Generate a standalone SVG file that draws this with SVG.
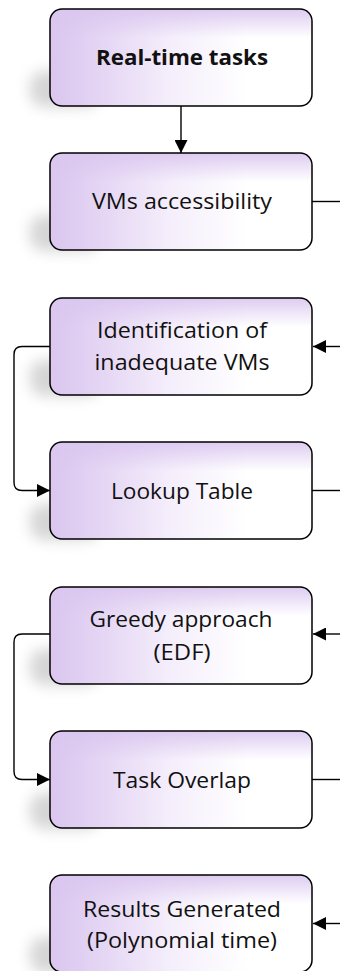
<svg xmlns="http://www.w3.org/2000/svg" width="340" height="971" viewBox="0 0 340 971">
  <defs>
    <linearGradient id="fillH" x1="0" y1="0" x2="1" y2="0">
      <stop offset="0" stop-color="#dac6ef"/>
      <stop offset="0.12" stop-color="#e0cff2"/>
      <stop offset="0.45" stop-color="#f4edfb"/>
      <stop offset="0.75" stop-color="#ffffff"/>
    </linearGradient>
    <linearGradient id="fillV" x1="0" y1="0" x2="0" y2="1">
      <stop offset="0" stop-color="#dac6ef" stop-opacity="0.9"/>
      <stop offset="0.3" stop-color="#dac6ef" stop-opacity="0"/>
    </linearGradient>
    <filter id="soft" x="-80%" y="-80%" width="260%" height="260%">
      <feGaussianBlur stdDeviation="7"/>
    </filter>
    <marker id="arrow" viewBox="0 0 13 13" refX="13" refY="6.5" markerWidth="13" markerHeight="13" markerUnits="userSpaceOnUse" orient="auto">
      <path d="M0,0 L13,6.5 L0,13 Z" fill="#000"/>
    </marker>
    <!-- box, tint and shadow shared by every step -->
    <g id="box">
      <rect x="30" y="62" width="70" height="36" rx="14" fill="#808080" opacity="0.32" filter="url(#soft)"/>
      <rect x="50" y="0" width="262" height="97" rx="12" fill="url(#fillH)"/>
      <rect x="50" y="0" width="262" height="97" rx="12" fill="url(#fillV)" stroke="#000" stroke-width="1.5"/>
    </g>
  </defs>
  <style>
    text { font-family: "Open Sans", "Liberation Sans", sans-serif; font-size: 22px; fill: #111; text-anchor: middle; }
    .bold { font-weight: bold; }
    .conn { fill: none; stroke: #000; stroke-width: 1.4; }
  </style>
  <rect width="340" height="971" fill="#fff"/>

  <g id="connectors">
    <path class="conn" d="M181,106 V153" marker-end="url(#arrow)"/>
    <path class="conn" d="M312,201.5 H340"/>
    <path class="conn" d="M340,346.5 H313" marker-end="url(#arrow)"/>
    <path class="conn" d="M50,346.5 H22 Q14,346.5 14,354.5 V482.5 Q14,490.5 22,490.5 H50" marker-end="url(#arrow)"/>
    <path class="conn" d="M312,490.5 H340"/>
    <path class="conn" d="M340,634 H313" marker-end="url(#arrow)"/>
    <path class="conn" d="M50,634 H22 Q14,634 14,642 V771.5 Q14,779.5 22,779.5 H50" marker-end="url(#arrow)"/>
    <path class="conn" d="M312,779.5 H340"/>
    <path class="conn" d="M340,923.5 H313" marker-end="url(#arrow)"/>
  </g>

  <g id="real-time-tasks" transform="translate(0,9)">
    <use href="#box"/>
    <text class="bold" x="182" y="56" textLength="172" lengthAdjust="spacingAndGlyphs">Real-time  tasks</text>
  </g>
  <g id="vms-accessibility" transform="translate(0,153)">
    <use href="#box"/>
    <text x="182" y="56" textLength="180" lengthAdjust="spacingAndGlyphs">VMs accessibility</text>
  </g>
  <g id="identification" transform="translate(0,298)">
    <use href="#box"/>
    <text x="182" y="40" textLength="170" lengthAdjust="spacingAndGlyphs">Identification of</text>
    <text x="182" y="72" textLength="175" lengthAdjust="spacingAndGlyphs">inadequate VMs</text>
  </g>
  <g id="lookup-table" transform="translate(0,442)">
    <use href="#box"/>
    <text x="182" y="57" textLength="142" lengthAdjust="spacingAndGlyphs">Lookup Table</text>
  </g>
  <g id="greedy-approach" transform="translate(0,587)">
    <use href="#box"/>
    <text x="181" y="40" textLength="183" lengthAdjust="spacingAndGlyphs">Greedy approach</text>
    <text x="182" y="73" textLength="57" lengthAdjust="spacingAndGlyphs">(EDF)</text>
  </g>
  <g id="task-overlap" transform="translate(0,731)">
    <use href="#box"/>
    <text x="182" y="57" textLength="138" lengthAdjust="spacingAndGlyphs">Task Overlap</text>
  </g>
  <g id="results-generated" transform="translate(0,875)">
    <use href="#box"/>
    <text x="182" y="42" textLength="198" lengthAdjust="spacingAndGlyphs">Results Generated</text>
    <text x="182" y="73" textLength="190" lengthAdjust="spacingAndGlyphs">(Polynomial time)</text>
  </g>
</svg>
